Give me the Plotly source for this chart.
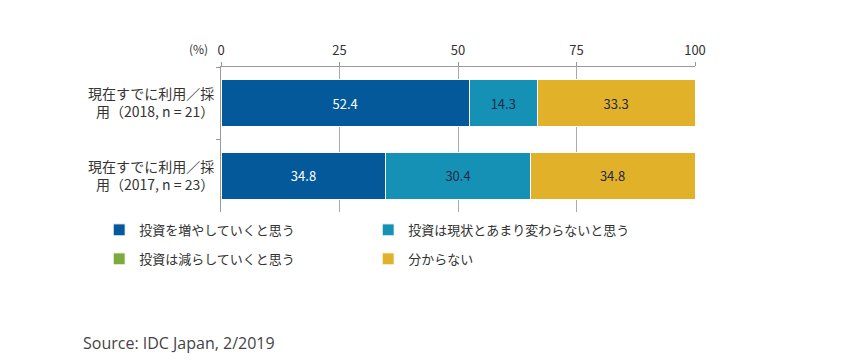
import plotly.graph_objects as go

categories = ["現在すでに利用／採<br>用（2018, n = 21）", "現在すでに利用／採<br>用（2017, n = 23）"]
series_names = ["投資を増やしていくと思う", "投資は現状とあまり変わらないと思う", "投資は減らしていくと思う", "分からない"]
increase = [52.4, 34.8]
same = [14.3, 30.4]
decrease = [0.0, 0.0]
unknown = [33.3, 34.8]
tick_vals = [0, 25, 50, 75, 100]

colors = ["#03599A", "#1691B6", "#7DAA3F", "#E2B12A"]
text_colors = ["#FFFFFF", "#1F2A44", "#1F2A44", "#1F2A44"]
legends = ["legend", "legend", "legend2", "legend2"]

fig = go.Figure()
for name, vals, col, tc, lg in zip(series_names, [increase, same, decrease, unknown], colors, text_colors, legends):
    fig.add_trace(go.Bar(
        y=categories, x=vals, name=name, orientation="h",
        marker=dict(color=col, line=dict(color="white", width=1)),
        text=[f"{v:.1f}" if v else "" for v in vals],
        textposition="inside", insidetextanchor="middle",
        textfont=dict(color=tc, size=13, family="Noto Sans CJK JP"),
        legend=lg,
    ))

fig.update_layout(
    barmode="stack", bargap=0.35,
    width=859, height=360,
    margin=dict(l=221, r=164, t=67, b=148),
    plot_bgcolor="white", paper_bgcolor="white",
    font=dict(family="Noto Sans CJK JP", size=13, color="#333333"),
    xaxis=dict(side="top", range=[0, 100], tickvals=tick_vals, ticks="outside", ticklen=4,
               tickcolor="#999999", showline=True, linecolor="#999999", showgrid=True,
               gridcolor="#AAAAAA", zeroline=False, tickfont=dict(size=13, color="#333333"),
               ticklabelstandoff=2),
    yaxis=dict(autorange="reversed", showline=True, linecolor="#999999", ticks="outside",
               tickson="boundaries", ticklen=4, tickcolor="#999999", showgrid=False,
               tickfont=dict(size=14, color="#333333"), ticklabelstandoff=3),
    legend=dict(orientation="h", x=-0.257, xanchor="left", y=-0.02, yanchor="top",
                traceorder="normal", entrywidth=224,
                font=dict(size=13, color="#333333"), bgcolor="rgba(0,0,0,0)"),
    legend2=dict(orientation="h", x=-0.257, xanchor="left", y=-0.22, yanchor="top",
                 traceorder="normal", entrywidth=224,
                 font=dict(size=13, color="#333333"), bgcolor="rgba(0,0,0,0)"),
    annotations=[
        dict(text="(%)", x=-0.024, y=1.2, xref="paper", yref="paper", showarrow=False,
             xanchor="right", font=dict(size=12, color="#333333")),
        dict(text="Source: IDC Japan, 2/2019", x=-0.295, y=-0.903, xref="paper", yref="paper",
             xanchor="left", yanchor="middle", showarrow=False,
             font=dict(family="Open Sans", size=16, color="#444444")),
    ],
)

fig.write_html("out.html", config={"displayModeBar": False},
               post_script="document.body.style.margin='0px';")
